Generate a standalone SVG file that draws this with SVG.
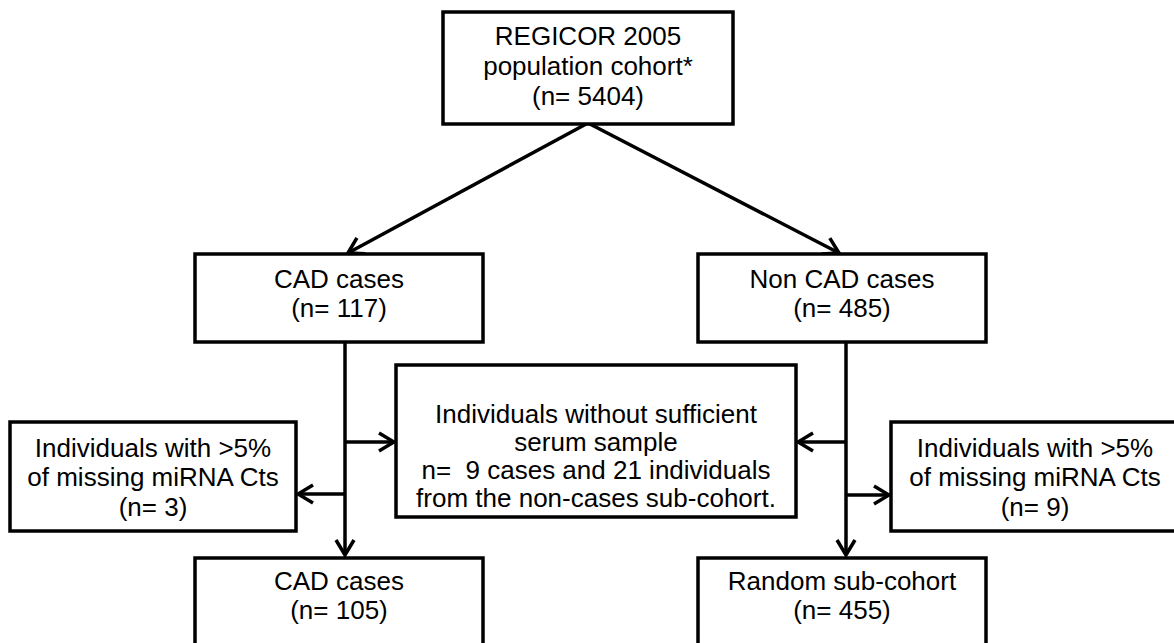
<svg xmlns="http://www.w3.org/2000/svg" width="1174" height="643" viewBox="0 0 1174 643">
  <style>
    .box { fill: #ffffff; stroke: #000000; stroke-width: 3.5; }
    .lbl { font-family: "Liberation Sans", Arial, sans-serif; font-size: 26px; fill: #000000; text-anchor: middle; white-space: pre; }
    .conn { fill: none; stroke: #000000; stroke-width: 3.5; marker-end: url(#arrow); }
  </style>
  <defs>
    <marker id="arrow" markerUnits="userSpaceOnUse" viewBox="-18 -12 20 24" refX="0" refY="0" markerWidth="20" markerHeight="24" orient="auto">
      <path d="M-15,-9 L0,0 L-15,9" fill="none" stroke="#000000" stroke-width="3.5" stroke-linejoin="miter"/>
    </marker>
  </defs>
  <rect width="1174" height="643" fill="#ffffff"/>

  <g id="connectors">
    <path class="conn" d="M588,123 L348,253"/>
    <path class="conn" d="M588,123 L839,253"/>
    <path class="conn" d="M345,342 L345,555"/>
    <path class="conn" d="M345,442 L394,442"/>
    <path class="conn" d="M345,494 L298,494"/>
    <path class="conn" d="M846,342 L846,555"/>
    <path class="conn" d="M846,442 L798,442"/>
    <path class="conn" d="M846,495 L889,495"/>
  </g>

  <g id="node-regicor">
    <rect class="box" x="443" y="12" width="290" height="112"/>
    <text class="lbl" x="588" y="45">REGICOR 2005</text>
    <text class="lbl" x="588" y="75">population cohort*</text>
    <text class="lbl" x="588" y="105">(n= 5404)</text>
  </g>

  <g id="node-cad">
    <rect class="box" x="195" y="254" width="288" height="88"/>
    <text class="lbl" x="339" y="288">CAD cases</text>
    <text class="lbl" x="339" y="317">(n= 117)</text>
  </g>

  <g id="node-noncad">
    <rect class="box" x="698" y="254" width="288" height="88"/>
    <text class="lbl" x="842" y="288">Non CAD cases</text>
    <text class="lbl" x="842" y="317">(n= 485)</text>
  </g>

  <g id="node-serum">
    <rect class="box" x="396" y="365" width="400" height="152"/>
    <text class="lbl" x="596" y="423">Individuals without sufficient</text>
    <text class="lbl" x="596" y="451">serum sample</text>
    <text class="lbl" x="596" y="479">n=  9 cases and 21 individuals</text>
    <text class="lbl" x="596" y="507">from the non-cases sub-cohort.</text>
  </g>

  <g id="node-missing-left">
    <rect class="box" x="10" y="422" width="286" height="109"/>
    <text class="lbl" x="153" y="457">Individuals with &gt;5%</text>
    <text class="lbl" x="153" y="486">of missing miRNA Cts</text>
    <text class="lbl" x="153" y="516">(n= 3)</text>
  </g>

  <g id="node-missing-right">
    <rect class="box" x="891" y="422" width="288" height="109"/>
    <text class="lbl" x="1035" y="457">Individuals with &gt;5%</text>
    <text class="lbl" x="1035" y="486">of missing miRNA Cts</text>
    <text class="lbl" x="1035" y="516">(n= 9)</text>
  </g>

  <g id="node-cad-final">
    <rect class="box" x="195" y="558" width="288" height="100"/>
    <text class="lbl" x="339" y="590">CAD cases</text>
    <text class="lbl" x="339" y="619">(n= 105)</text>
  </g>

  <g id="node-subcohort">
    <rect class="box" x="698" y="558" width="288" height="100"/>
    <text class="lbl" x="842" y="590">Random sub-cohort</text>
    <text class="lbl" x="842" y="619">(n= 455)</text>
  </g>
</svg>
